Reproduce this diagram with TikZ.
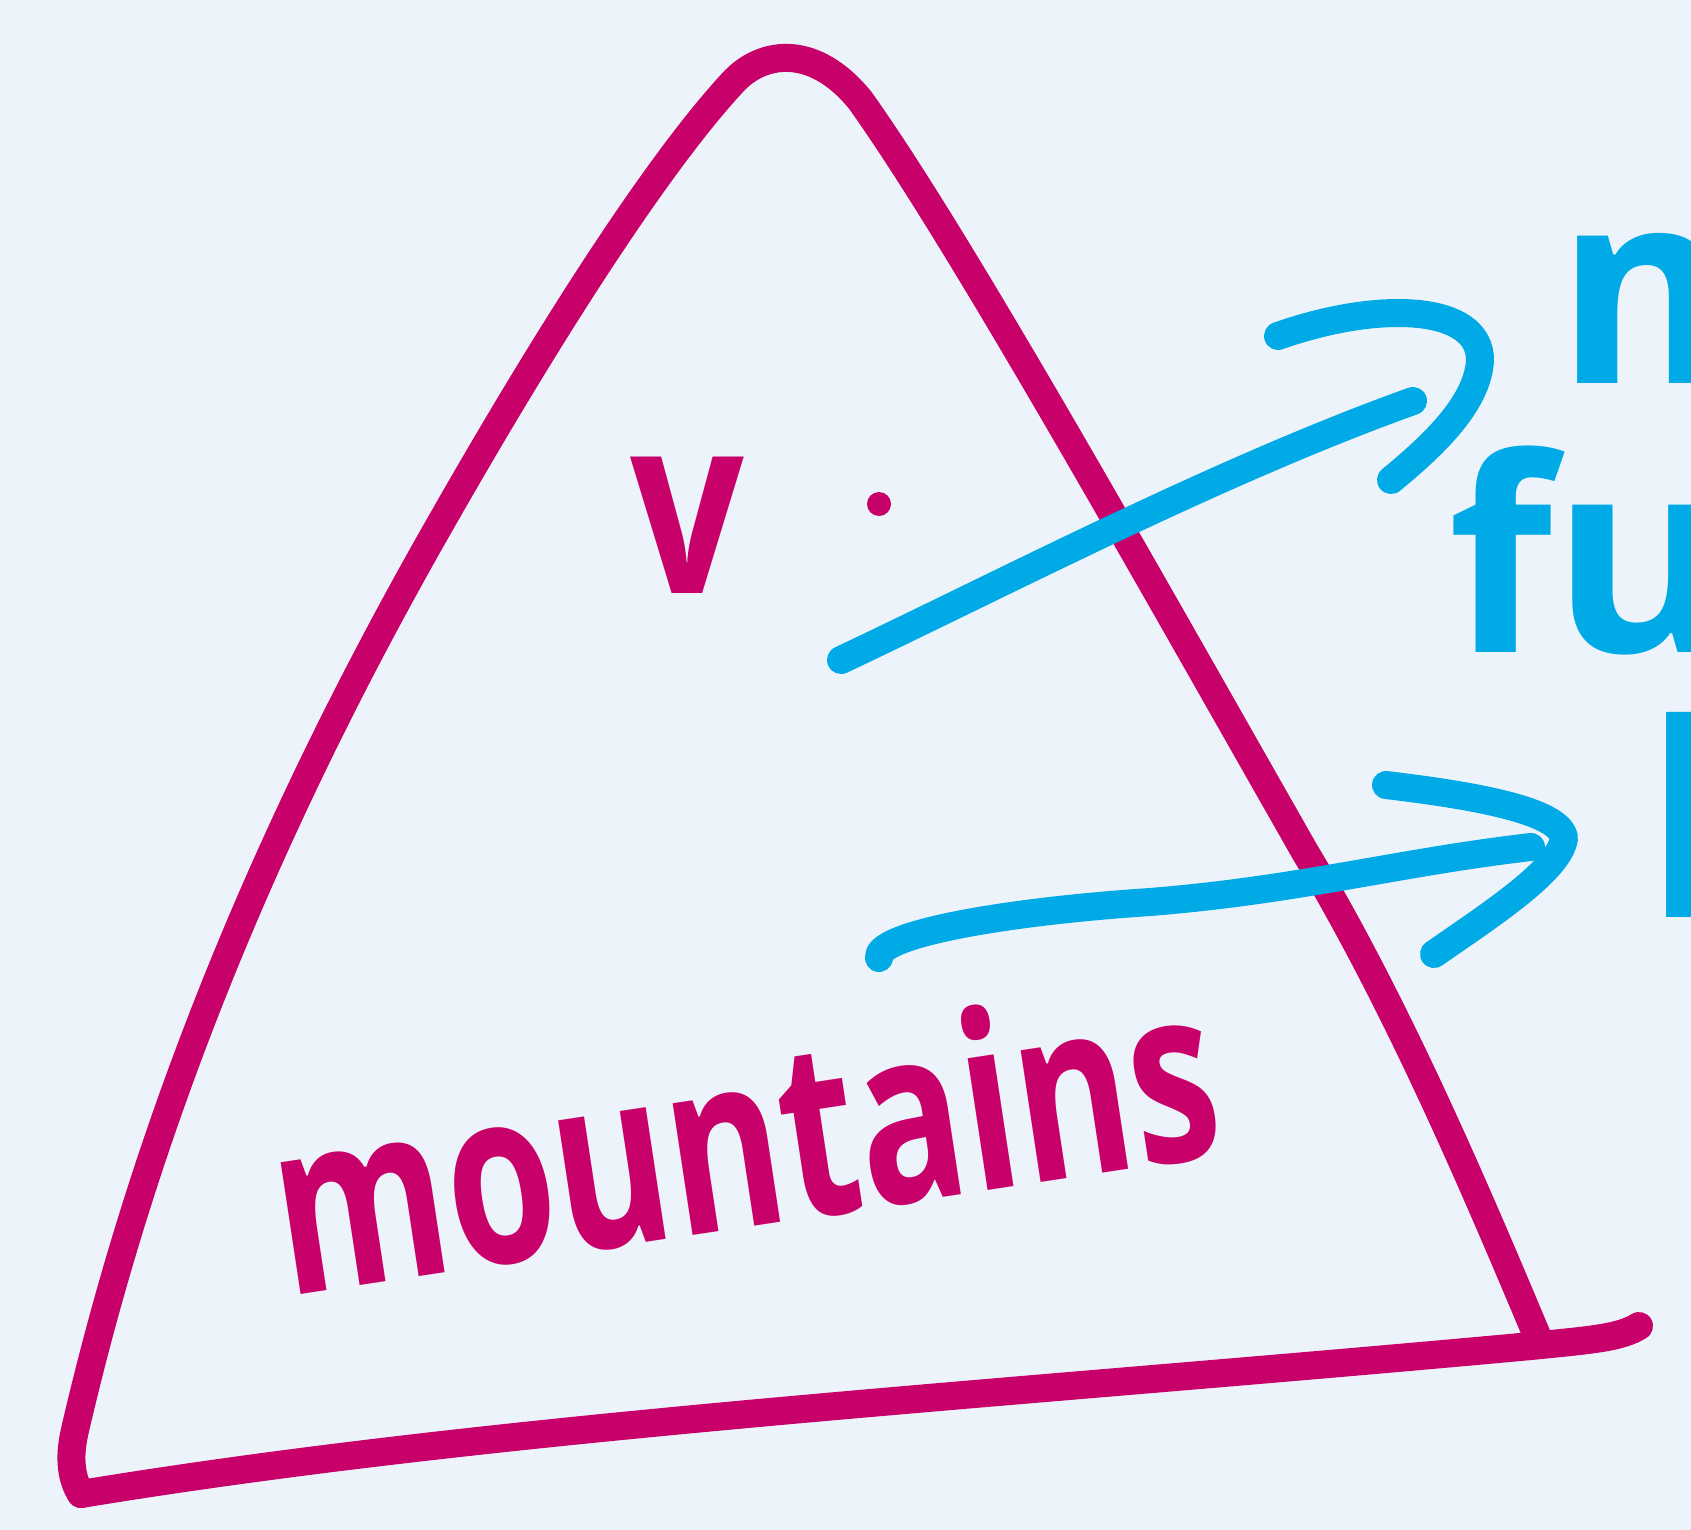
\documentclass[tikz,border=0pt]{standalone}
\usepackage{fontspec}
\setmainfont{Open Sans}
\definecolor{bg}{RGB}{237,243,250}
\definecolor{pinkline}{RGB}{200,0,106}
\definecolor{blueline}{RGB}{0,170,230}
\tikzset{
  pinkstroke/.style={draw=pinkline, line width=14pt, line cap=round, line join=round},
  bluestroke/.style={draw=blueline, line width=14pt, line cap=round, line join=round},
  pinktext/.style={text=pinkline, inner sep=0pt},
  bluetext/.style={text=blueline, inner sep=0pt, anchor=base west, font=\fontsize{135}{135}\selectfont\bfseries}
}
\begin{document}
\begin{tikzpicture}[x=0.5pt,y=-0.5pt]
\useasboundingbox (0,0) rectangle (1691,1530);
\fill[bg] (0,0) rectangle (1691,1530);
\clip (0,0) rectangle (1691,1530);
% mountain outline
\draw[pinkstroke] (81,1494) .. controls (72,1480) and (68,1460) .. (75,1430)
  .. controls (140,1150) and (250,860) .. (431,540)
  .. controls (550,330) and (660,160) .. (735,80)
  .. controls (765,50) and (815,45) .. (860,100)
  .. controls (960,240) and (1150,580) .. (1305,852)
  .. controls (1400,1010) and (1480,1200) .. (1538,1338);
\draw[pinkstroke] (81,1494) .. controls (500,1425) and (1000,1395) .. (1531,1346)
  .. controls (1590,1340) and (1620,1338) .. (1639,1326);
% labels inside
\node[pinktext, font=\fontsize{125}{125}\selectfont\bfseries, xscale=0.8] (v) at (687,525) {v};
\fill[pinkline] (879,504) circle (12);
\node[pinktext, font=\fontsize{122}{122}\selectfont\bfseries, rotate=8.6, xscale=0.72] (mtn) at (744,1135) {mountains};
% arrows
\coordinate (a1s) at (841,660);
\coordinate (a1e) at (1413,401);
\draw[bluestroke] (a1s) .. controls (1000,585) and (1220,470) .. (a1e);
\draw[bluestroke] (1278,336) .. controls (1380,300) and (1480,305) .. (1480,360) .. controls (1478,400) and (1440,440) .. (1391,480);
\coordinate (a2s) at (879,958);
\coordinate (a2e) at (1531,847);
\draw[bluestroke] (a2s) .. controls (875,935) and (1000,912) .. (1150,902) .. controls (1300,890) and (1400,862) .. (a2e);
\draw[bluestroke] (1386,785) .. controls (1470,795) and (1560,810) .. (1564,838) .. controls (1560,870) and (1490,915) .. (1434,954);
% cut-off texts on right
\node[bluetext] (m) at (1556,383) {m};
\node[bluetext] (fu) at (1448,652) {fu\_};
\node[bluetext] (l) at (1645,917) {l};
\end{tikzpicture}
\end{document}
